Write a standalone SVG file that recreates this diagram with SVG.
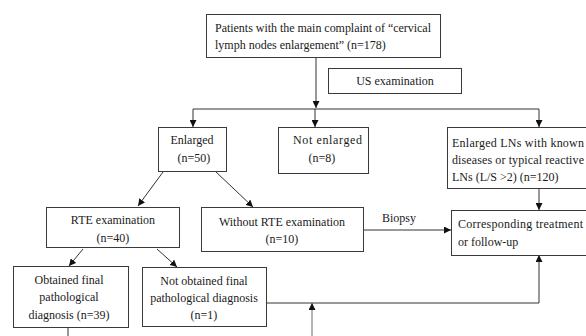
<svg xmlns="http://www.w3.org/2000/svg" width="586" height="336" viewBox="0 0 586 336">
<defs>
<style>
.box{fill:#fff;stroke:#3a3a3a;stroke-width:1}
.ln{fill:none;stroke:#333;stroke-width:1}
.t{font-family:"Liberation Serif","Times New Roman",serif;font-size:12px;fill:#1a1a1a}
.c{text-anchor:middle}
</style>
<marker id="ah" viewBox="0 0 10 10" refX="10" refY="5" markerWidth="7" markerHeight="7" markerUnits="userSpaceOnUse" orient="auto">
<path d="M0,0 L10,5 L0,10 Z" fill="#111"/>
</marker>
</defs>
<rect width="586" height="336" fill="#fff"/>
<g id="connectors">
<line class="ln" x1="316" y1="57" x2="316" y2="108" marker-end="url(#ah)"/>
<line class="ln" x1="193" y1="109" x2="539" y2="109"/>
<line class="ln" x1="193" y1="109" x2="193" y2="127" marker-end="url(#ah)"/>
<line class="ln" x1="315" y1="109" x2="315" y2="127" marker-end="url(#ah)"/>
<line class="ln" x1="539" y1="109" x2="539" y2="127" marker-end="url(#ah)"/>
<line class="ln" x1="539" y1="188" x2="539" y2="210" marker-end="url(#ah)"/>
<line class="ln" x1="163" y1="172" x2="138" y2="206" marker-end="url(#ah)"/>
<line class="ln" x1="215" y1="171" x2="253" y2="207" marker-end="url(#ah)"/>
<line class="ln" x1="83" y1="249" x2="69" y2="266" marker-end="url(#ah)"/>
<line class="ln" x1="157" y1="249" x2="177" y2="267" marker-end="url(#ah)"/>
<line class="ln" x1="363" y1="230" x2="451" y2="230" marker-end="url(#ah)"/>
<polyline class="ln" points="266,303 539,303 539,255" marker-end="url(#ah)"/>
<line class="ln" x1="312" y1="336" x2="312" y2="303" marker-end="url(#ah)" style="stroke:#666"/>
<line class="ln" x1="68" y1="327" x2="68" y2="336"/>
<text class="t" x="382" y="222">Biopsy</text>
</g>
<g id="n-top">
<rect class="box" x="206.5" y="14.5" width="234" height="43"/>
<text class="t" x="215" y="32" textLength="216" lengthAdjust="spacing">Patients with the main complaint of “cervical</text>
<text class="t" x="215" y="49">lymph nodes enlargement” (n=178)</text>
</g>
<g id="n-us">
<rect class="box" x="328.5" y="68.5" width="133" height="25"/>
<text class="t c" x="395" y="85">US examination</text>
</g>
<g id="n-enlarged">
<rect class="box" x="158.5" y="127.5" width="68" height="44"/>
<text class="t c" x="192" y="144">Enlarged</text>
<text class="t c" x="194" y="162">(n=50)</text>
</g>
<g id="n-notenlarged">
<rect class="box" x="278.5" y="127.5" width="90" height="46"/>
<text class="t" x="293" y="144" textLength="69" lengthAdjust="spacing">Not enlarged</text>
<text class="t c" x="322" y="162">(n=8)</text>
</g>
<g id="n-known">
<rect class="box" x="447.5" y="127.5" width="150" height="61"/>
<text class="t" x="452" y="147" textLength="132" lengthAdjust="spacing">Enlarged LNs with known</text>
<text class="t" x="452" y="164" textLength="132" lengthAdjust="spacing">diseases or typical reactive</text>
<text class="t" x="452" y="181">LNs (L/S &gt;2) (n=120)</text>
</g>
<g id="n-rte">
<rect class="box" x="46.5" y="207.5" width="133" height="40"/>
<text class="t c" x="113" y="224">RTE examination</text>
<text class="t c" x="113" y="242">(n=40)</text>
</g>
<g id="n-without">
<rect class="box" x="201.5" y="207.5" width="162" height="44"/>
<text class="t c" x="282" y="226">Without RTE examination</text>
<text class="t c" x="282" y="243">(n=10)</text>
</g>
<g id="n-corresponding">
<rect class="box" x="451.5" y="210.5" width="145" height="45"/>
<text class="t" x="458" y="228" textLength="125" lengthAdjust="spacing">Corresponding treatment</text>
<text class="t" x="458" y="246">or follow-up</text>
</g>
<g id="n-obtained">
<rect class="box" x="13.5" y="266.5" width="115" height="61"/>
<text class="t c" x="69" y="284">Obtained final</text>
<text class="t c" x="69" y="301">pathological</text>
<text class="t c" x="69" y="319">diagnosis (n=39)</text>
</g>
<g id="n-notobtained">
<rect class="box" x="142.5" y="267.5" width="124" height="59"/>
<text class="t c" x="204" y="285">Not obtained final</text>
<text class="t c" x="204" y="302">pathological diagnosis</text>
<text class="t c" x="204" y="319">(n=1)</text>
</g>
</svg>
